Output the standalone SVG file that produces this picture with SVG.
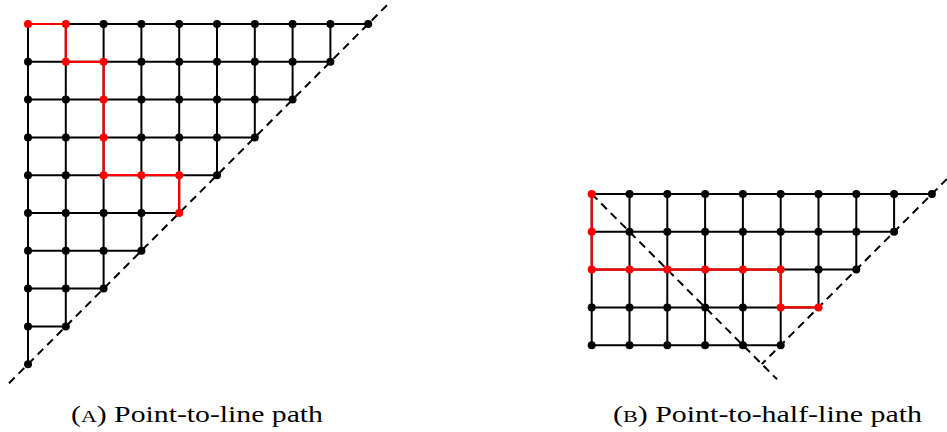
<svg xmlns="http://www.w3.org/2000/svg" width="947" height="432" viewBox="0 0 947 432">
<style>
.g{stroke:#000;stroke-width:2;fill:none;stroke-linecap:round}
.r{stroke:#f00;stroke-width:2.2;fill:none;stroke-linecap:round;stroke-linejoin:round}
.d{stroke:#000;stroke-width:2;fill:none;stroke-dasharray:8 5.5}
.nb{fill:#000}
.nr{fill:#f00}
.cap{font-family:"Liberation Serif","DejaVu Serif",serif;font-size:23px;fill:#000}
</style>
<rect width="947" height="432" fill="#fff"/>
<g id="connectors">
<g id="gridA" class="g">
<path d="M28,24H368.2M28,61.8H330.4M28,99.6H292.6M28,137.4H254.8M28,175.2H217M28,213H179.2M28,250.8H141.4M28,288.6H103.6M28,326.4H65.8"/>
<path d="M28,24V364.2M65.8,24V326.4M103.6,24V288.6M141.4,24V250.8M179.2,24V213M217,24V175.2M254.8,24V137.4M292.6,24V99.6M330.4,24V61.8"/>
</g>
<path id="lineA" class="d" d="M9,383.2L388,4.2"/>
<path id="pathA" class="r" d="M28,24H65.8V61.8H103.6V175.2H179.2V213"/>
<g id="gridB" class="g">
<path d="M591.7,194H931.9M591.7,231.8H894.1M591.7,269.6H856.3M591.7,307.4H818.5M591.7,345.2H780.7"/>
<path d="M591.7,194V345.2M629.5,194V345.2M667.3,194V345.2M705.1,194V345.2M742.9,194V345.2M780.7,194V345.2M818.5,194V307.4M856.3,194V269.6M894.1,194V231.8"/>
</g>
<path id="lineB1" class="d" d="M947,178.9L761.8,364.1"/>
<path id="lineB2" class="d" d="M591.7,194L777,379.3"/>
<path id="pathB" class="r" d="M591.7,194V269.6H780.7V307.4H818.5"/>
</g>
<g id="nodesA">
<g class="nb">
<circle cx="103.6" cy="24" r="4"/><circle cx="141.4" cy="24" r="4"/><circle cx="179.2" cy="24" r="4"/><circle cx="217" cy="24" r="4"/><circle cx="254.8" cy="24" r="4"/><circle cx="292.6" cy="24" r="4"/><circle cx="330.4" cy="24" r="4"/><circle cx="368.2" cy="24" r="4"/>
<circle cx="28" cy="61.8" r="4"/><circle cx="141.4" cy="61.8" r="4"/><circle cx="179.2" cy="61.8" r="4"/><circle cx="217" cy="61.8" r="4"/><circle cx="254.8" cy="61.8" r="4"/><circle cx="292.6" cy="61.8" r="4"/><circle cx="330.4" cy="61.8" r="4"/>
<circle cx="28" cy="99.6" r="4"/><circle cx="65.8" cy="99.6" r="4"/><circle cx="141.4" cy="99.6" r="4"/><circle cx="179.2" cy="99.6" r="4"/><circle cx="217" cy="99.6" r="4"/><circle cx="254.8" cy="99.6" r="4"/><circle cx="292.6" cy="99.6" r="4"/>
<circle cx="28" cy="137.4" r="4"/><circle cx="65.8" cy="137.4" r="4"/><circle cx="141.4" cy="137.4" r="4"/><circle cx="179.2" cy="137.4" r="4"/><circle cx="217" cy="137.4" r="4"/><circle cx="254.8" cy="137.4" r="4"/>
<circle cx="28" cy="175.2" r="4"/><circle cx="65.8" cy="175.2" r="4"/><circle cx="217" cy="175.2" r="4"/>
<circle cx="28" cy="213" r="4"/><circle cx="65.8" cy="213" r="4"/><circle cx="103.6" cy="213" r="4"/><circle cx="141.4" cy="213" r="4"/>
<circle cx="28" cy="250.8" r="4"/><circle cx="65.8" cy="250.8" r="4"/><circle cx="103.6" cy="250.8" r="4"/><circle cx="141.4" cy="250.8" r="4"/>
<circle cx="28" cy="288.6" r="4"/><circle cx="65.8" cy="288.6" r="4"/><circle cx="103.6" cy="288.6" r="4"/>
<circle cx="28" cy="326.4" r="4"/><circle cx="65.8" cy="326.4" r="4"/>
<circle cx="28" cy="364.2" r="4"/>
</g>
<g class="nr">
<circle cx="28" cy="24" r="4"/><circle cx="65.8" cy="24" r="4"/><circle cx="65.8" cy="61.8" r="4"/><circle cx="103.6" cy="61.8" r="4"/><circle cx="103.6" cy="99.6" r="4"/><circle cx="103.6" cy="137.4" r="4"/><circle cx="103.6" cy="175.2" r="4"/><circle cx="141.4" cy="175.2" r="4"/><circle cx="179.2" cy="175.2" r="4"/><circle cx="179.2" cy="213" r="4"/>
</g>
</g>
<g id="nodesB">
<g class="nb">
<circle cx="629.5" cy="194" r="4"/><circle cx="667.3" cy="194" r="4"/><circle cx="705.1" cy="194" r="4"/><circle cx="742.9" cy="194" r="4"/><circle cx="780.7" cy="194" r="4"/><circle cx="818.5" cy="194" r="4"/><circle cx="856.3" cy="194" r="4"/><circle cx="894.1" cy="194" r="4"/><circle cx="931.9" cy="194" r="4"/>
<circle cx="629.5" cy="231.8" r="4"/><circle cx="667.3" cy="231.8" r="4"/><circle cx="705.1" cy="231.8" r="4"/><circle cx="742.9" cy="231.8" r="4"/><circle cx="780.7" cy="231.8" r="4"/><circle cx="818.5" cy="231.8" r="4"/><circle cx="856.3" cy="231.8" r="4"/><circle cx="894.1" cy="231.8" r="4"/>
<circle cx="818.5" cy="269.6" r="4"/><circle cx="856.3" cy="269.6" r="4"/>
<circle cx="591.7" cy="307.4" r="4"/><circle cx="629.5" cy="307.4" r="4"/><circle cx="667.3" cy="307.4" r="4"/><circle cx="705.1" cy="307.4" r="4"/><circle cx="742.9" cy="307.4" r="4"/>
<circle cx="591.7" cy="345.2" r="4"/><circle cx="629.5" cy="345.2" r="4"/><circle cx="667.3" cy="345.2" r="4"/><circle cx="705.1" cy="345.2" r="4"/><circle cx="742.9" cy="345.2" r="4"/><circle cx="780.7" cy="345.2" r="4"/>
</g>
<g class="nr">
<circle cx="591.7" cy="194" r="4"/><circle cx="591.7" cy="231.8" r="4"/><circle cx="591.7" cy="269.6" r="4"/><circle cx="629.5" cy="269.6" r="4"/><circle cx="667.3" cy="269.6" r="4"/><circle cx="705.1" cy="269.6" r="4"/><circle cx="742.9" cy="269.6" r="4"/><circle cx="780.7" cy="269.6" r="4"/><circle cx="780.7" cy="307.4" r="4"/><circle cx="818.5" cy="307.4" r="4"/>
</g>
</g>
<g id="captions">
<text class="cap" x="71" y="422" textLength="252" lengthAdjust="spacingAndGlyphs">(<tspan font-size="17">A</tspan>) Point-to-line path</text>
<text class="cap" x="613" y="422" textLength="309" lengthAdjust="spacingAndGlyphs">(<tspan font-size="17">B</tspan>) Point-to-half-line path</text>
</g>
</svg>
